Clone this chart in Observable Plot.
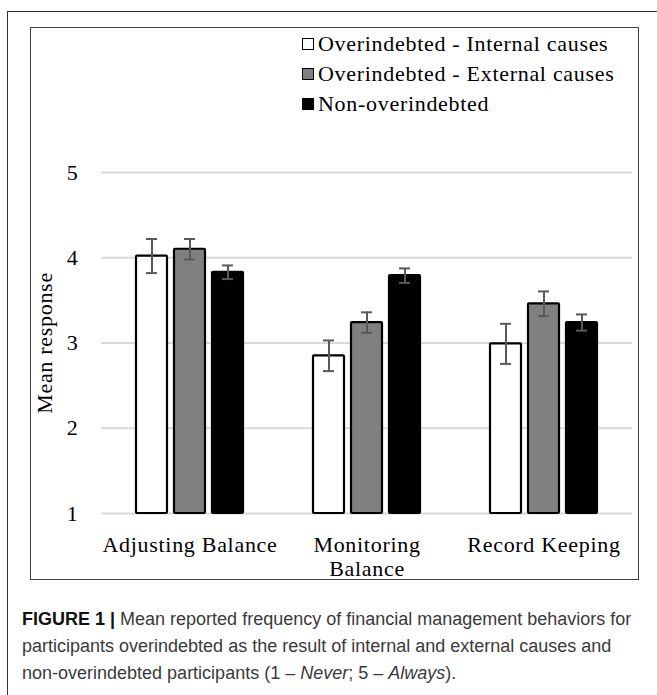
<!DOCTYPE html>
<html>
<head>
<meta charset="utf-8">
<script src="https://cdn.jsdelivr.net/npm/d3@7"></script>
<script src="https://cdn.jsdelivr.net/npm/@observablehq/plot@0.6"></script>
<style>
  html, body { margin: 0; padding: 0; background: #fff; }
  body { width: 657px; height: 695px; overflow: hidden; position: relative; font-family: "Liberation Serif", "Times New Roman", serif; }
  #outer { position: absolute; left: 7px; top: 11px; width: 720px; height: 720px; border-left: 1.5px solid #333; border-top: 1.5px solid #333; }
  #inner { position: absolute; left: 30px; top: 27px; width: 607px; height: 551px; border: 1.5px solid #444; }
  #legend { position: absolute; left: 302px; top: 29px; }
  .item { display: flex; align-items: center; height: 30px; font-size: 22px; letter-spacing: 0.7px; color: #000; white-space: nowrap; }
  .sw { width: 10px; height: 10px; border: 1.5px solid #000; margin-right: 4px; flex: none; }
  #chart { position: absolute; left: 30px; top: 130px; }
  #chart svg text { letter-spacing: 0.7px; }
  #caption { position: absolute; left: 22px; top: 606px; width: 630px; font-family: "Liberation Sans", Arial, sans-serif; font-size: 18px; line-height: 27px; color: #3a3a3a; }
  #caption b { color: #111; }
</style>
</head>
<body>
<div id="outer"></div>
<div id="inner"></div>
<div id="legend"></div>
<div id="chart"></div>
<div id="caption"><b>FIGURE 1 |</b> Mean reported frequency of financial management behaviors for participants overindebted as the result of internal and external causes and non-overindebted participants (1 – <i>Never</i>; 5 – <i>Always</i>).</div>
<script>
const categories = ["Adjusting Balance", "Monitoring Balance", "Record Keeping"];
const categoryLabels = ["Adjusting Balance", "Monitoring\nBalance", "Record Keeping"];
const groups = ["Overindebted - Internal causes", "Overindebted - External causes", "Non-overindebted"];
const groupColors = ["#ffffff", "#808080", "#000000"];
const internalMeans = [4.02, 2.85, 2.99];
const internalErr = [0.20, 0.18, 0.235];
const externalMeans = [4.10, 3.24, 3.46];
const externalErr = [0.12, 0.12, 0.145];
const nonMeans = [3.83, 3.79, 3.24];
const nonErr = [0.08, 0.085, 0.095];
const yDomain = [1, 5];
const yTicks = [1, 2, 3, 4, 5];
const yLabel = "Mean response";

const meansByGroup = [internalMeans, externalMeans, nonMeans];
const errByGroup = [internalErr, externalErr, nonErr];
const rows = [];
categories.forEach((c, i) => {
  groups.forEach((g, j) => {
    const m = meansByGroup[j][i], e = errByGroup[j][i];
    rows.push({category: c, group: g, mean: m, lo: m - e, hi: m + e});
  });
});

// legend
const legend = document.getElementById("legend");
groups.forEach((g, j) => {
  const it = document.createElement("div");
  it.className = "item";
  const sw = document.createElement("span");
  sw.className = "sw";
  sw.style.background = groupColors[j];
  it.appendChild(sw);
  it.appendChild(document.createTextNode(g));
  legend.appendChild(it);
});

const chart = Plot.plot({
  width: 608,
  height: 450,
  marginLeft: 70,
  marginRight: 5,
  marginTop: 42,
  marginBottom: 67,
  style: {fontFamily: "'Liberation Serif', 'Times New Roman', serif", fontSize: "22px", color: "#000", background: "transparent", overflow: "visible"},
  fx: {domain: categories, padding: 0, label: null},
  x: {domain: groups, paddingInner: 0.18, paddingOuter: 0.868, axis: null},
  y: {domain: yDomain, label: yLabel},
  color: {domain: groups, range: groupColors},
  marks: [
    Plot.ruleY(yTicks, {stroke: "#d9d9d9", strokeWidth: 2}),
    Plot.axisY({ticks: yTicks, tickFormat: d => String(d), tickSize: 0, tickPadding: 23, fontSize: 22, label: yLabel, labelAnchor: "center", labelOffset: 65, labelArrow: "none"}),
    Plot.axisFx({anchor: "bottom", tickSize: 0, tickPadding: 21, fontSize: 22, lineAnchor: "top", lineHeight: 1.1, label: null, tickFormat: d => categoryLabels[categories.indexOf(d)]}),
    Plot.barY(rows, {fx: "category", x: "group", y1: () => yDomain[0], y2: "mean", fill: "group", stroke: "#000", strokeWidth: 2.2, rx: 1}),
    Plot.ruleX(rows, {fx: "category", x: "group", y1: "lo", y2: "hi", stroke: "#595959", strokeWidth: 2}),
    Plot.tickY(rows, {fx: "category", x: "group", y: "lo", stroke: "#595959", strokeWidth: 2, insetLeft: 10, insetRight: 10}),
    Plot.tickY(rows, {fx: "category", x: "group", y: "hi", stroke: "#595959", strokeWidth: 2, insetLeft: 10, insetRight: 10})
  ]
});
document.getElementById("chart").appendChild(chart);
</script>
</body>
</html>
